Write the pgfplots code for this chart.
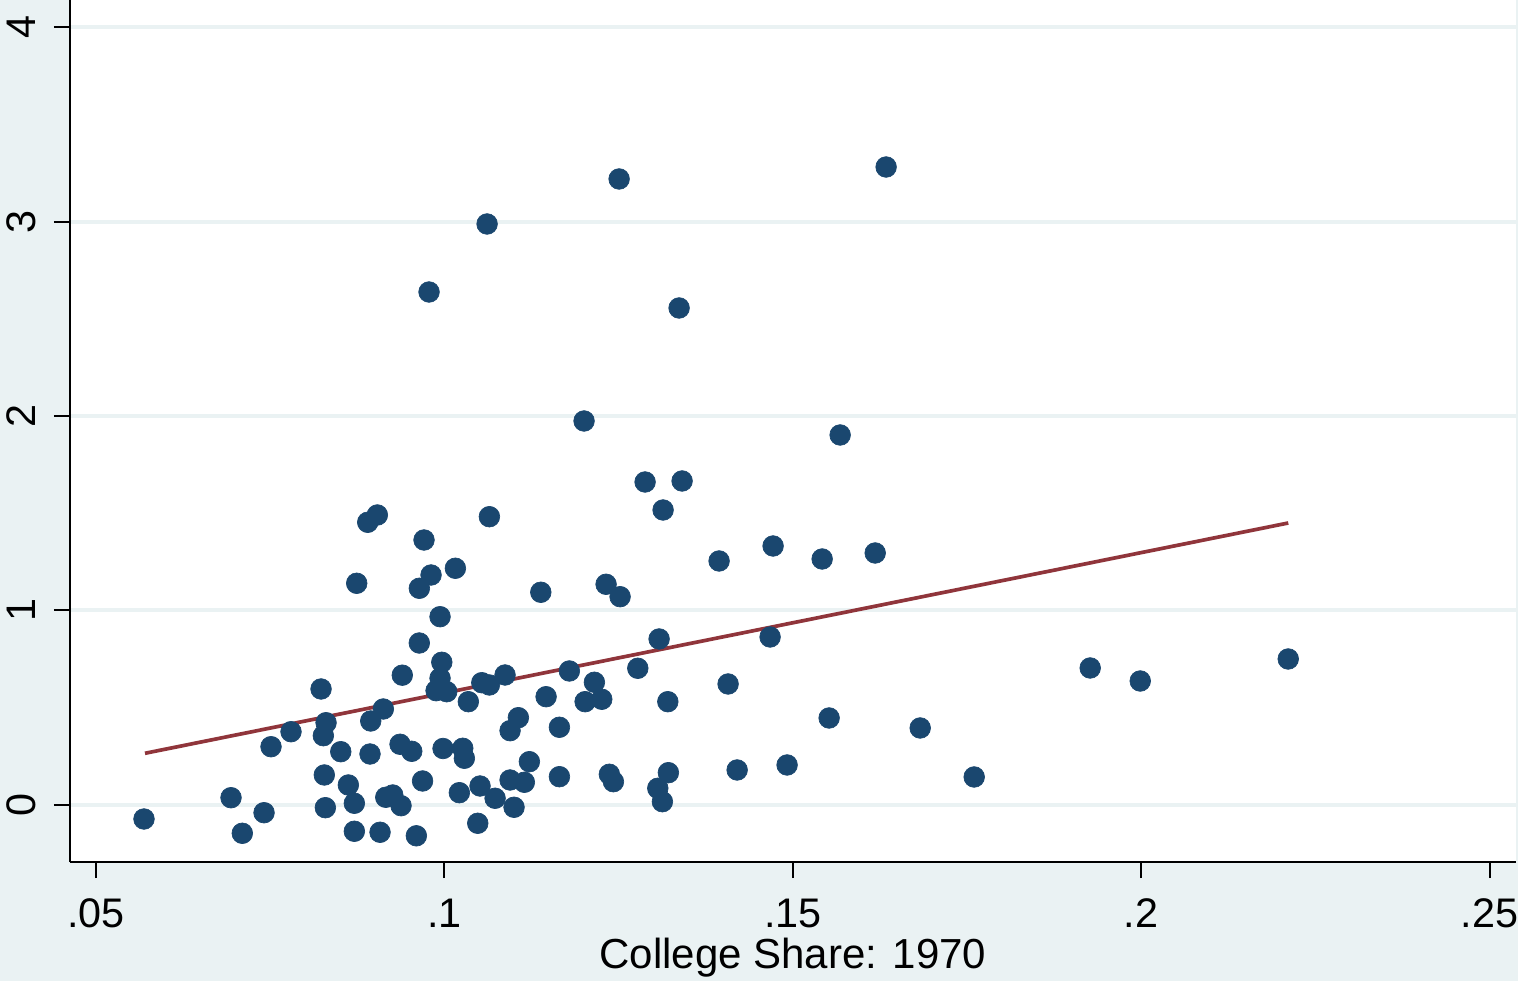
\documentclass[border=0pt]{standalone}
\usepackage{pgfplots}
\pgfplotsset{compat=1.18}
\usepackage{fontspec}
\setmainfont{Liberation Sans}

\definecolor{bgcol}{RGB}{234,242,243}
\definecolor{dotcol}{RGB}{26,71,111}
\definecolor{fitcol}{RGB}{144,53,59}

\begin{document}
\begin{tikzpicture}
  % graph region (1 px of the reference = 0.3pt)
  \fill[bgcol] (-21pt,-35.7pt) rectangle (434.4pt,258.6pt);
  \begin{axis}[
    at={(0,0)}, anchor=south west,
    scale only axis,
    width=433.8pt, height=258.6pt,
    xmin=0.04627, xmax=0.2538,
    ymin=-0.295, ymax=4.1415,
    axis x line*=bottom, axis y line*=left,
    axis line style={black, line width=0.65pt, -},
    axis background/.style={fill=white},
    xtick={0.05,0.1,0.15,0.2,0.25},
    xticklabels={.05,.1,.15,.2,.25},
    ytick={0,1,2,3,4},
    yticklabels={0,1,2,3,4},
    tick align=outside,
    major tick length=4.8pt,
    tick style={black, line width=0.6pt},
    ymajorgrids,
    major grid style={bgcol, line width=1.2pt},
    every tick label/.append style={font=\fontsize{12.4}{14}\selectfont, inner sep=0pt},
    xticklabel style={anchor=base, yshift=-14.7pt},
    yticklabel style={xshift=-5.4pt, rotate=90, anchor=base},
    xlabel={College Share: 1970},
    xlabel style={at={(axis description cs:0.5,0)}, anchor=base, yshift=-31.8pt,
      inner sep=0pt, font=\fontsize{12.6}{15}\selectfont},
  ]

  % counties: college share 1970 vs outcome
  \addplot[only marks, mark=*, mark size=3.1pt,
    mark options={fill=dotcol, draw=dotcol, line width=0.2pt}] table {
    x y
    0.05689 -0.0736
    0.06938 0.0360
    0.07100 -0.1472
    0.07412 -0.0412
    0.07512 0.2985
    0.07799 0.3757
    0.08230 0.5955
    0.08263 0.3551
    0.08302 0.4220
    0.08277 0.1529
    0.08292 -0.0154
    0.08513 0.2728
    0.08622 0.1014
    0.08708 -0.1369
    0.08708 0.0072
    0.08742 1.1395
    0.08900 1.4534
    0.09038 1.4910
    0.08933 0.2609
    0.08943 0.4308
    0.09077 -0.1420
    0.09124 0.4925
    0.09159 0.0381
    0.09259 0.0499
    0.09378 -0.0051
    0.09364 0.3109
    0.09396 0.6665
    0.09532 0.2748
    0.09598 -0.1601
    0.09641 1.1137
    0.09640 0.8322
    0.09687 0.1220
    0.09708 1.3623
    0.09780 2.6387
    0.09809 1.1822
    0.09881 0.5867
    0.09938 0.9676
    0.09938 0.6505
    0.09963 0.7329
    0.09981 0.2892
    0.10034 0.5816
    0.10158 1.2167
    0.10215 0.0618
    0.10264 0.2903
    0.10287 0.2388
    0.10344 0.5301
    0.10479 -0.0957
    0.10512 0.0962
    0.10537 0.6279
    0.10613 2.9887
    0.10646 1.4822
    0.10646 0.6161
    0.10728 0.0329
    0.10871 0.6675
    0.10943 0.1271
    0.10943 0.3809
    0.11000 -0.0134
    0.11062 0.4478
    0.11148 0.1153
    0.11220 0.2213
    0.11384 1.0932
    0.11460 0.5558
    0.11651 0.3984
    0.11651 0.1441
    0.11794 0.6881
    0.12005 1.9748
    0.12020 0.5301
    0.12153 0.6300
    0.12259 0.5425
    0.12321 1.1343
    0.12368 0.1565
    0.12426 0.1184
    0.12508 3.2203
    0.12522 1.0705
    0.12776 0.7020
    0.12881 1.6608
    0.13063 0.0844
    0.13082 0.8528
    0.13129 0.0154
    0.13139 1.5167
    0.13207 0.5301
    0.13215 0.1647
    0.13369 2.5564
    0.13412 1.6660
    0.13943 1.2543
    0.14072 0.6212
    0.14202 0.1786
    0.14675 0.8631
    0.14718 1.3314
    0.14919 0.2043
    0.15422 1.2645
    0.15522 0.4462
    0.15680 1.9027
    0.16183 1.2954
    0.16340 3.2820
    0.16829 0.3948
    0.17604 0.1426
    0.19269 0.7036
    0.19987 0.6366
    0.22111 0.7499
  };

  % fitted line
  \addplot[fitcol, line width=1.1pt] coordinates {(0.05703,0.2645) (0.22112,1.4498)};

  \end{axis}
  \pgfresetboundingbox
  \useasboundingbox (-21pt,-35.7pt) rectangle (434.4pt,258.6pt);
\end{tikzpicture}
\end{document}
